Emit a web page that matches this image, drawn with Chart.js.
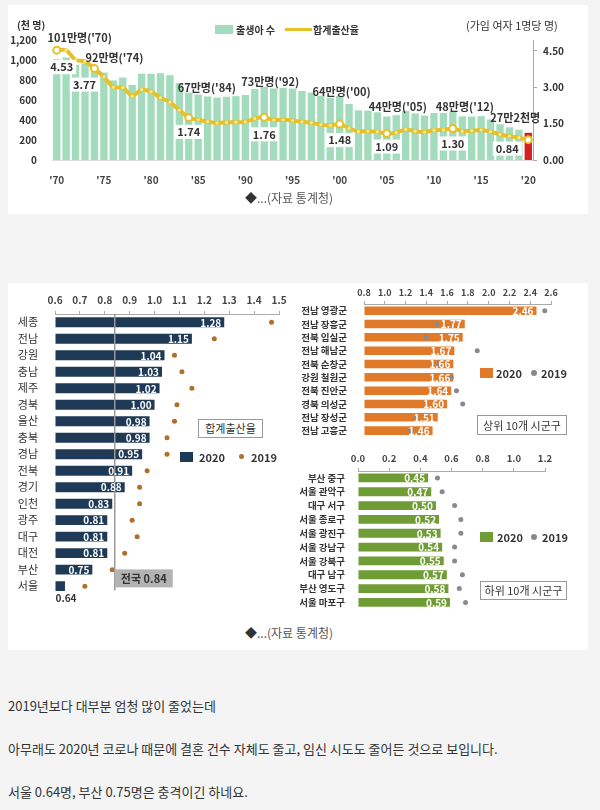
<!DOCTYPE html>
<html>
<head>
<meta charset="utf-8">
<script src="https://cdn.jsdelivr.net/npm/chart.js@4.4.1/dist/chart.umd.min.js"></script>
<style>
  body { margin: 0; width: 600px; height: 810px; background: #f4f4f4; position: relative; overflow: hidden;
         font-family: "Noto Sans CJK KR", "Noto Sans", sans-serif; }
  .card { position: absolute; left: 8px; width: 580px; background: #fff; }
  canvas { position: absolute; }
  .t { position: absolute; white-space: nowrap; color: #333; font-size: 10px; font-weight: bold; line-height: 10px; }
  .box { position: absolute; box-sizing: border-box; border: 1px solid #999; background: #fff; text-align: center;
         font-size: 11px; color: #333; white-space: nowrap; }
  .sq { position: absolute; width: 13px; height: 10px; }
  .dot { position: absolute; width: 6px; height: 6px; border-radius: 50%; }
  .src { position: absolute; font-size: 12px; color: #555; line-height: 12px; white-space: nowrap; }
  .note { position: absolute; left: 8px; font-size: 13px; color: #333; line-height: 13px; white-space: nowrap; }
</style>
</head>
<body>
<div class="card" style="top:5px;height:209px"></div>
<div class="card" style="top:283px;height:367px"></div>

<canvas id="trend" width="600" height="215" style="left:0;top:0"></canvas>
<canvas id="prov" width="300" height="330" style="left:0;top:280px"></canvas>
<canvas id="top10" width="300" height="172" style="left:300px;top:280px"></canvas>
<canvas id="low10" width="300" height="170" style="left:300px;top:450px"></canvas>

<!-- top chart texts -->
<div class="t" style="left:17px;top:20px">(천 명)</div>
<div class="t" style="left:466px;top:20px;font-size:11px;font-weight:normal">(가임 여자 1명당 명)</div>
<div class="sq" style="left:215px;top:25px;width:18px;height:9px;background:#a3dcbc"></div>
<div class="t" style="left:236px;top:25px">출생아 수</div>
<div style="position:absolute;left:285px;top:28px;width:27px;height:3px;background:#e5c027"></div>
<div class="t" style="left:313px;top:25px">합계출산율</div>
<div class="src" style="left:245px;top:192px"><span style="color:#333">◆</span>...(자료 통계청)</div>

<!-- province chart extras -->
<div class="box" style="left:198px;top:419px;width:65px;height:19px;line-height:17px">합계출산율</div>
<div class="sq" style="left:180px;top:452px;background:#1e3a56"></div>
<div class="t" style="left:199px;top:452px;font-size:11px;line-height:11px">2020</div>
<div class="dot" style="left:239px;top:454px;width:5px;height:5px;background:#b06f2c"></div>
<div class="t" style="left:251px;top:452px;font-size:11px;line-height:11px">2019</div>

<!-- top 10 extras -->
<div class="sq" style="left:480px;top:368px;background:#e07a28"></div>
<div class="t" style="left:496px;top:368px;font-size:11px;line-height:11px">2020</div>
<div class="dot" style="left:531px;top:370px;background:#888"></div>
<div class="t" style="left:541px;top:368px;font-size:11px;line-height:11px">2019</div>
<div class="box" style="left:477px;top:415px;width:90px;height:20px;line-height:18px">상위 10개 시군구</div>

<!-- bottom 10 extras -->
<div class="sq" style="left:480px;top:532px;background:#6f9c34"></div>
<div class="t" style="left:497px;top:532px;font-size:11px;line-height:11px">2020</div>
<div class="dot" style="left:531px;top:534px;background:#888"></div>
<div class="t" style="left:542px;top:532px;font-size:11px;line-height:11px">2019</div>
<div class="box" style="left:480px;top:581px;width:87px;height:19px;line-height:17px">하위 10개 시군구</div>
<div class="src" style="left:245px;top:627px"><span style="color:#333">◆</span>...(자료 통계청)</div>

<div class="note" style="top:699px">2019년보다 대부분 엄청 많이 줄었는데</div>
<div class="note" style="top:742px">아무래도 2020년 코로나 때문에 결혼 건수 자체도 줄고, 임신 시도도 줄어든 것으로 보입니다.</div>
<div class="note" style="top:785px">서울 0.64명, 부산 0.75명은 충격이긴 하네요.</div>

<script>
// 출생아 수 (천 명) / 합계출산율, 1970-2020
const years = ["'70","'71","'72","'73","'74","'75","'76","'77","'78","'79",
               "'80","'81","'82","'83","'84","'85","'86","'87","'88","'89",
               "'90","'91","'92","'93","'94","'95","'96","'97","'98","'99",
               "'00","'01","'02","'03","'04","'05","'06","'07","'08","'09",
               "'10","'11","'12","'13","'14","'15","'16","'17","'18","'19","'20"];
const births = [1007,1025,953,966,923,874,796,825,751,863,
                863,867,848,769,675,655,636,624,633,639,
                650,709,731,716,721,715,691,675,642,621,
                640,560,497,495,477,435,448,493,466,445,
                470,471,485,436,435,438,406,358,327,303,272];
const rates = [4.53,4.54,4.12,4.07,3.77,3.43,3.00,2.99,2.64,2.90,
               2.82,2.57,2.39,2.06,1.74,1.66,1.58,1.53,1.55,1.56,
               1.57,1.71,1.76,1.65,1.66,1.63,1.57,1.54,1.46,1.43,
               1.48,1.31,1.18,1.19,1.16,1.09,1.13,1.26,1.19,1.15,
               1.23,1.24,1.30,1.19,1.21,1.24,1.17,1.05,0.98,0.92,0.84];
const keyIdx = [0, 4, 14, 22, 30, 35, 42, 50];
const birthTags = ["101만명('70)", "92만명('74)", "67만명('84)", "73만명('92)",
                   "64만명('00)", "44만명('05)", "48만명('12)", "27만2천명"];
const leftTicks = [0, 200, 400, 600, 800, 1000, 1200];
const rightTicks = [0, 1.5, 3.0, 4.5];

// 시도별 합계출산율
const provinces = ['세종','전남','강원','충남','제주','경북','울산','충북','경남','전북','경기','인천','광주','대구','대전','부산','서울'];
const prov2020 = [1.28,1.15,1.04,1.03,1.02,1.00,0.98,0.98,0.95,0.91,0.88,0.83,0.81,0.81,0.81,0.75,0.64];
const prov2019 = [1.47,1.24,1.08,1.11,1.15,1.09,1.08,1.05,1.05,0.97,0.94,0.94,0.91,0.93,0.88,0.83,0.72];
const national = 0.84;

// 상위 10개 시군구
const topAreas = ['전남 영광군','전남 장흥군','전북 임실군','전남 해남군','전북 순창군','강원 철원군','전북 진안군','경북 의성군','전남 장성군','전남 고흥군'];
const top2020 = [2.46,1.77,1.75,1.67,1.66,1.66,1.64,1.60,1.51,1.46];
const top2019 = [2.54,1.50,1.40,1.89,1.52,1.64,1.69,1.75,1.30,1.25];

// 하위 10개 시군구
const lowAreas = ['부산 중구','서울 관악구','대구 서구','서울 종로구','서울 광진구','서울 강남구','서울 강북구','대구 남구','부산 영도구','서울 마포구'];
const low2020 = [0.45,0.47,0.50,0.52,0.53,0.54,0.55,0.57,0.58,0.59];
const low2019 = [0.51,0.54,0.62,0.66,0.66,0.62,0.62,0.67,0.65,0.69];

const FONT = '"Noto Sans CJK KR", "Noto Sans", sans-serif';
Chart.defaults.font.family = FONT;
Chart.defaults.animation = false;
Chart.defaults.plugins.legend.display = false;
Chart.defaults.plugins.tooltip.enabled = false;

// label offsets for the annotated years (pixels)
const birthDx = [23, 20, 18, 6, 2, 11, 12, -13];
const birthDy = [-21, -10, -5, -5, -4, -10, -5, -15];
const rateDx = [5, -10, 0, 0, 0, 0, 0, -21];
const rateDy = [17, 16, 14, 17, 16, 13, 15, 9];

const trendTags = {
  id: 'trendTags',
  afterDatasetsDraw(chart) {
    const ctx = chart.ctx;
    const pts = chart.getDatasetMeta(0).data;
    const bars = chart.getDatasetMeta(1).data;
    ctx.save();
    ctx.font = 'bold 11px ' + FONT;
    ctx.textAlign = 'center';
    ctx.textBaseline = 'middle';
    keyIdx.forEach((k, j) => {
      const b = bars[k], p = pts[k];
      ctx.fillStyle = '#333';
      ctx.fillText(birthTags[j], b.x + birthDx[j], b.y + birthDy[j]);
      const t = rates[k].toFixed(2);
      const w = ctx.measureText(t).width + 6;
      const x = p.x + rateDx[j], y = p.y + rateDy[j];
      ctx.fillStyle = '#fff';
      ctx.fillRect(x - w / 2, y - 7, w, 14);
      ctx.fillStyle = '#333';
      ctx.fillText(t, x, y);
    });
    ctx.restore();
  }
};

new Chart(document.getElementById('trend'), {
  type: 'bar',
  data: {
    labels: years,
    datasets: [{
      type: 'line',
      data: rates,
      yAxisID: 'yR',
      borderColor: '#e5c027',
      borderWidth: 4,
      tension: 0.2,
      pointRadius: rates.map((v, i) => keyIdx.includes(i) ? 3.5 : 1.6),
      pointBackgroundColor: rates.map((v, i) => keyIdx.includes(i) ? '#fff' : '#f7e79a'),
      pointBorderColor: '#e5c027',
      pointBorderWidth: rates.map((v, i) => keyIdx.includes(i) ? 2 : 0),
      order: 0
    }, {
      data: births,
      yAxisID: 'yL',
      backgroundColor: births.map((v, i) => i === births.length - 1 ? '#d81e1e' : '#a3dcbc'),
      barPercentage: 0.78,
      categoryPercentage: 1,
      order: 1
    }]
  },
  options: {
    responsive: false,
    layout: { padding: { top: 40, left: 0, right: 0, bottom: 0 } },
    scales: {
      x: {
        grid: { display: false },
        border: { display: true, color: '#ddd' },
        ticks: {
          autoSkip: false, maxRotation: 0, padding: 6, color: '#444',
          font: { size: 10, weight: 'bold' },
          callback: (v, i) => i % 5 === 0 ? years[i] : ''
        },
        afterFit(s) { s.height = 55; }
      },
      yL: {
        position: 'left', min: 0, max: 1200,
        grid: { display: false },
        border: { display: false },
        afterBuildTicks(s) { s.ticks = leftTicks.map(v => ({ value: v })); },
        ticks: { padding: 7, color: '#333', font: { size: 10, weight: 'bold' },
                 callback: v => v.toLocaleString('en-US') },
        afterFit(s) { s.width = 52; }
      },
      yR: {
        position: 'right', min: 0, max: 4.95,
        grid: { display: true, drawOnChartArea: false, tickLength: 4, color: '#aaa' },
        border: { display: true, color: '#aaa' },
        afterBuildTicks(s) { s.ticks = rightTicks.map(v => ({ value: v })); },
        ticks: { padding: 6, color: '#333', font: { size: 10, weight: 'bold' },
                 callback: v => Number(v).toFixed(2) },
        afterFit(s) { s.width = 67; }
      }
    }
  },
  plugins: [trendTags]
});

function valueTags() {
  return {
    id: 'valueTags',
    afterDatasetsDraw(chart) {
      const ctx = chart.ctx;
      const meta = chart.getDatasetMeta(0);
      const data = chart.data.datasets[0].data;
      ctx.save();
      ctx.font = 'bold 10px ' + FONT;
      ctx.textBaseline = 'middle';
      meta.data.forEach((bar, i) => {
        const t = data[i].toFixed(2);
        const w = ctx.measureText(t).width;
        const left = Math.max(bar.base, chart.chartArea.left);
        if (bar.x - left > w + 6) {
          ctx.fillStyle = '#fff';
          ctx.textAlign = 'right';
          ctx.fillText(t, bar.x - 3, bar.y + 0.5);
        } else {
          ctx.fillStyle = '#333';
          ctx.textAlign = 'left';
          ctx.fillText(t, left, bar.y + 12);
        }
      });
      ctx.restore();
    }
  };
}

const nationalLine = {
  id: 'nationalLine',
  afterDatasetsDraw(chart) {
    const ctx = chart.ctx, a = chart.chartArea;
    const x = chart.scales.x.getPixelForValue(national);
    ctx.save();
    ctx.strokeStyle = '#9a9a9a';
    ctx.lineWidth = 1.5;
    ctx.beginPath();
    ctx.moveTo(x, a.top);
    ctx.lineTo(x, a.bottom - 4);
    ctx.stroke();
    ctx.fillStyle = '#b3b3b3';
    ctx.fillRect(x, a.bottom - 25, 58, 18);
    ctx.fillStyle = '#333';
    ctx.font = 'bold 11px ' + FONT;
    ctx.textAlign = 'center';
    ctx.textBaseline = 'middle';
    ctx.fillText('전국 ' + national.toFixed(2), x + 29, a.bottom - 16);
    ctx.restore();
  }
};

function hbar(id, labels, v2020, v2019, opt) {
  return new Chart(document.getElementById(id), {
    type: 'bar',
    data: {
      labels: labels,
      datasets: [{
        data: v2020,
        backgroundColor: opt.color,
        base: opt.min,
        barPercentage: opt.bar,
        categoryPercentage: 1,
        order: 1
      }, {
        type: 'line',
        indexAxis: 'y',
        data: v2019,
        showLine: false,
        pointRadius: opt.dot,
        pointBackgroundColor: opt.dotColor,
        pointBorderWidth: 0,
        order: 0
      }]
    },
    options: {
      responsive: false,
      indexAxis: 'y',
      layout: { padding: opt.padding },
      scales: {
        x: {
          position: 'top', min: opt.min, max: opt.max,
          grid: { display: true, drawOnChartArea: false, tickLength: 3, color: '#aaa' },
          border: { display: true, color: '#aaa' },
          ticks: { stepSize: opt.step, padding: opt.tickPad, color: '#444',
                   autoSkip: false, maxRotation: 0, minRotation: 0,
                   font: { size: opt.tickSize, weight: 'bold' },
                   callback: v => Number(v).toFixed(1) },
          afterFit(s) { s.height = opt.top; }
        },
        y: {
          grid: { display: false },
          border: { display: false },
          ticks: { autoSkip: false, padding: opt.labelPad, color: '#333', font: opt.labelFont },
          afterFit(s) { s.width = opt.left; }
        }
      }
    },
    plugins: (opt.extra || []).concat([valueTags()])
  });
}

hbar('prov', provinces, prov2020, prov2019, {
  color: '#1e3a56', min: 0.6, max: 1.5, step: 0.1, bar: 0.6, dot: 2.5, dotColor: '#b06f2c',
  padding: { top: 0, left: 0, right: 21, bottom: 8 }, top: 34, left: 55, tickPad: 5, labelPad: 9,
  tickSize: 10, labelFont: { size: 11 }, extra: [nationalLine]
});

hbar('top10', topAreas, top2020, top2019, {
  color: '#e07a28', min: 0.8, max: 2.6, step: 0.2, bar: 0.64, dot: 2.5, dotColor: '#8a8a8a',
  padding: { top: 0, left: 0, right: 49, bottom: 2 }, top: 24, left: 64, tickPad: 3, labelPad: 9,
  tickSize: 9, labelFont: { size: 9.5, weight: 'bold' }
});

hbar('low10', lowAreas, low2020, low2019, {
  color: '#6f9c34', min: 0, max: 1.2, step: 0.2, bar: 0.64, dot: 2.5, dotColor: '#8a8a8a',
  padding: { top: 0, left: 0, right: 55, bottom: 6 }, top: 21, left: 58, tickPad: 4, labelPad: 5,
  tickSize: 9.5, labelFont: { size: 9.5, weight: 'bold' }
});
</script>
</body>
</html>
